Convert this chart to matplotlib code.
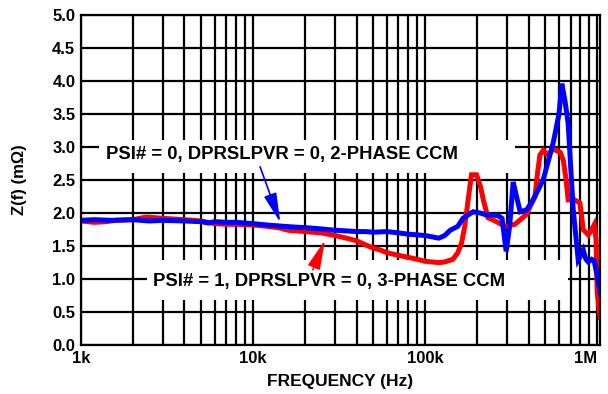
import matplotlib
matplotlib.use("Agg")
import matplotlib.pyplot as plt
from matplotlib.patches import Rectangle
from matplotlib.ticker import FixedLocator, NullFormatter

plt.rcParams['font.family'] = ['Liberation Sans', 'DejaVu Sans']

# 2-phase CCM (blue)
blue_freq = [1000, 1200, 1500, 2000, 2500, 3000, 4000, 5000, 5500, 6000, 7000, 8000,
             10000, 12000, 15000, 17000, 20000, 25000, 30000, 35000, 40000, 45000,
             50000, 60000, 70000, 80000, 90000, 100000, 110000, 120000, 130000,
             140000, 155000, 166000, 180000, 190000, 210000, 228000, 250000, 266000,
             280000, 296000, 310000, 325000, 340000, 357000, 390000, 424000, 485000,
             555000, 600000, 623000, 650000, 678000, 726000, 776000, 800000, 830000,
             860000, 888000, 930000, 960000, 1000000, 1040000]
blue_z = [1.89, 1.90, 1.89, 1.90, 1.88, 1.89, 1.88, 1.87, 1.85, 1.87, 1.86, 1.86,
          1.84, 1.82, 1.80, 1.79, 1.78, 1.76, 1.74, 1.73, 1.72, 1.72,
          1.71, 1.72, 1.70, 1.68, 1.67, 1.66, 1.64, 1.62, 1.66,
          1.74, 1.80, 1.92, 1.98, 2.02, 2.00, 1.97, 1.97, 1.96,
          1.92, 1.42, 1.80, 2.47, 2.25, 2.02, 2.05, 2.20, 2.50,
          3.06, 3.50, 3.96, 3.70, 3.36, 2.05, 1.29, 1.35, 1.44,
          1.30, 1.26, 1.30, 1.28, 1.05, 0.80]

# 3-phase CCM (red)
red_freq = [1000, 1200, 1400, 1600, 2000, 2400, 2700, 3000, 4000, 5000, 6000, 7000,
            8000, 10000, 12000, 14000, 16000, 18000, 20000, 25000, 30000, 35000,
            40000, 45000, 50000, 55000, 60000, 70000, 80000, 90000, 100000, 120000,
            130000, 145000, 155000, 163000, 170000, 175000, 180000, 186000, 199000,
            210000, 218000, 232000, 260000, 290000, 333000, 388000, 435000, 450000,
            465000, 486000, 518000, 555000, 610000, 636000, 660000, 678000, 741000,
            794000, 830000, 888000, 930000, 960000, 985000, 1000000, 1040000]
red_z = [1.88, 1.86, 1.87, 1.89, 1.90, 1.94, 1.93, 1.92, 1.90, 1.88, 1.84, 1.83,
         1.83, 1.82, 1.80, 1.78, 1.74, 1.73, 1.72, 1.70, 1.66, 1.62,
         1.58, 1.52, 1.47, 1.44, 1.40, 1.36, 1.33, 1.30, 1.27, 1.25,
         1.26, 1.30, 1.40, 1.55, 1.80, 2.05, 2.30, 2.58, 2.58,
         2.40, 2.20, 1.93, 1.87, 1.80, 1.83, 1.98, 2.25, 2.60,
         2.88, 2.95, 2.88, 2.97, 2.92, 2.80, 2.50, 2.20, 2.20,
         2.15, 1.75, 1.67, 1.75, 1.82, 1.60, 0.80, 0.42]

x_ticks = [1e3, 1e4, 1e5, 1e6]
x_ticklabels = ['1k', '10k', '100k', '1M']
y_ticks = [0.0, 0.5, 1.0, 1.5, 2.0, 2.5, 3.0, 3.5, 4.0, 4.5, 5.0]

label_2ph = 'PSI# = 0, DPRSLPVR = 0, 2-PHASE CCM'
label_3ph = 'PSI# = 1, DPRSLPVR = 0, 3-PHASE CCM'

fig = plt.figure(figsize=(6.08, 3.94), dpi=100)
ax = fig.add_axes([0.133, 0.124, 0.854, 0.838])
ax.set_xscale('log')
ax.set_xlim(1e3, 1.04e6)
ax.set_ylim(0, 5)

# grid: all decades + minor, black
minor = [m * 10 ** d for d in range(3, 7) for m in range(2, 10)]
ax.xaxis.set_major_locator(FixedLocator(x_ticks))
ax.xaxis.set_minor_locator(FixedLocator(minor))
ax.xaxis.set_minor_formatter(NullFormatter())
ax.set_xticklabels(x_ticklabels)
ax.set_yticks(y_ticks)
ax.set_yticklabels([f'{v:.1f}' for v in y_ticks])
ax.grid(True, which='both', axis='x', color='black', lw=1.6, zorder=1)
ax.grid(True, which='major', axis='y', color='black', lw=1.6, zorder=1)
ax.set_axisbelow(True)
ax.tick_params(which='both', length=0, labelsize=12, pad=4)
for lab in ax.get_xticklabels() + ax.get_yticklabels():
    lab.set_fontweight('bold')
ax.get_xticklabels()[-1].set_horizontalalignment('right')
for s in ax.spines.values():
    s.set_linewidth(1.6)
    s.set_zorder(6)

# white label boxes
ax.add_patch(Rectangle((0.035, 0.521), 0.801, 0.100, transform=ax.transAxes,
                       facecolor='white', edgecolor='none', zorder=2))
ax.add_patch(Rectangle((0.127, 0.136), 0.811, 0.122, transform=ax.transAxes,
                       facecolor='white', edgecolor='none', zorder=2))

ax.plot(red_freq, red_z, color='#ff0000', lw=3.6, zorder=4, solid_joinstyle='miter')
ax.plot(blue_freq, blue_z, color='#0000ff', lw=3.6, zorder=5, solid_joinstyle='miter')

ax.text(0.048, 0.576, label_2ph, transform=ax.transAxes, fontsize=13.3,
        fontweight='bold', ha='left', va='center', zorder=3)
ax.text(0.139, 0.194, label_3ph, transform=ax.transAxes, fontsize=13.3,
        fontweight='bold', ha='left', va='center', zorder=3)

ax.annotate('', xy=(14400, 1.86), xytext=(11000, 2.70),
            arrowprops=dict(arrowstyle='-|>,head_length=0.9,head_width=0.2',
                            color='#0000ff', lw=1.2, mutation_scale=20,
                            shrinkA=0, shrinkB=0), zorder=6)
ax.annotate('', xy=(26200, 1.59), xytext=(22300, 1.14),
            arrowprops=dict(arrowstyle='-|>,head_length=0.9,head_width=0.2',
                            color='#ff0000', lw=1.2, mutation_scale=20,
                            shrinkA=0, shrinkB=0), zorder=6)

ax.set_xlabel('FREQUENCY (Hz)', fontsize=12.5, fontweight='bold', labelpad=6)
ax.set_ylabel('Z(f) (m\u03a9)', fontsize=12, fontweight='bold', labelpad=18)

fig.savefig('out.png', dpi=100)
